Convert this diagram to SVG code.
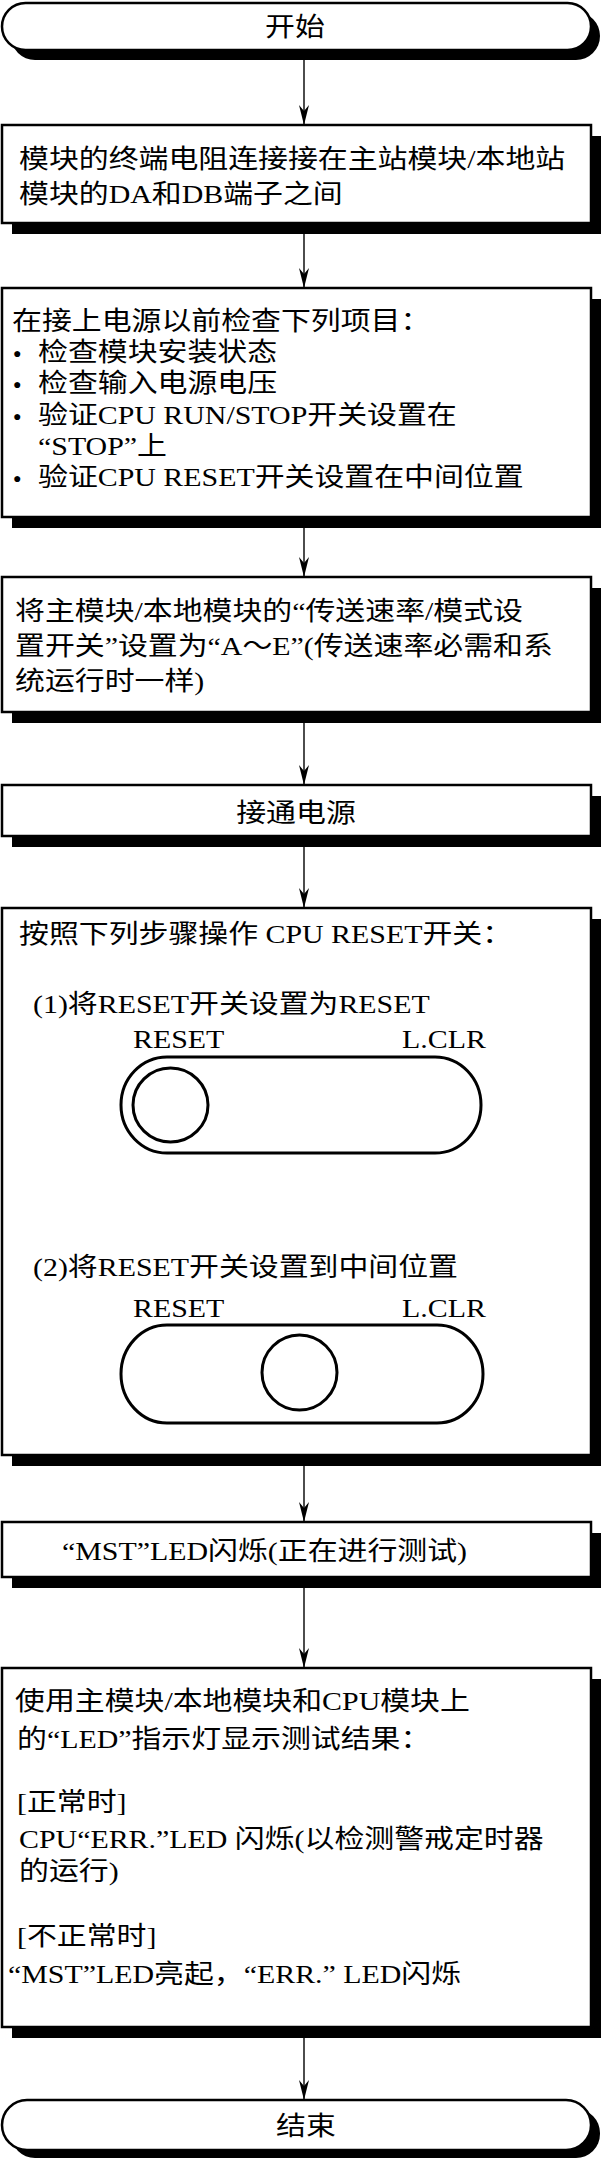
<svg xmlns="http://www.w3.org/2000/svg" width="604" height="2160" viewBox="0 0 604 2160">
<style>
.t{font-family:"Liberation Serif","Noto Sans CJK SC",serif;font-size:26px;fill:#000}
.b{font-family:"Liberation Serif","DejaVu Sans",sans-serif;font-size:14px;fill:#000}
.m{text-anchor:middle}
.box{fill:#fff;stroke:#000;stroke-width:2.5}
.sh{fill:#000}
.sw{fill:none;stroke:#000;stroke-width:3}
.c{stroke:#000;stroke-width:1.4;fill:none;marker-end:url(#ah)}
</style>
<defs>
<marker id="ah" markerUnits="userSpaceOnUse" viewBox="0 0 20 10" refX="20" refY="5" markerWidth="20" markerHeight="10" orient="auto">
<path d="M0,0 L20,5 L0,10 L6,5 Z" fill="#000"/>
</marker>
</defs>
<rect width="604" height="2160" fill="#fff"/>

<g id="connectors">
<line class="c" x1="304" y1="60" x2="304" y2="125"/>
<line class="c" x1="304" y1="234" x2="304" y2="288"/>
<line class="c" x1="304" y1="528" x2="304" y2="577"/>
<line class="c" x1="304" y1="723" x2="304" y2="785"/>
<line class="c" x1="304" y1="847" x2="304" y2="908"/>
<line class="c" x1="304" y1="1162" x2="304" y2="1235"/>
<line class="c" x1="304" y1="1466" x2="304" y2="1522"/>
<line class="c" x1="304" y1="1588" x2="304" y2="1668"/>
<line class="c" x1="304" y1="2038" x2="304" y2="2100"/>
</g>

<g id="start">
<rect class="sh" x="11" y="12" width="589" height="48" rx="24" ry="24"/>
<rect class="box" x="2" y="3" width="589" height="47" rx="23.5" ry="23.5"/>
<text class="t m" transform="translate(295,36) scale(1.15,1)">开始</text>
</g>

<g id="step1">
<rect class="sh" x="12" y="136" width="589" height="98"/>
<rect class="box" x="2" y="125" width="589" height="98"/>
<text class="t" transform="translate(19,168) scale(1.15,1)">模块的终端电阻连接接在主站模块/本地站</text>
<text class="t" transform="translate(19,203) scale(1.15,1)">模块的DA和DB端子之间</text>
</g>

<g id="step2">
<rect class="sh" x="12" y="299" width="589" height="229"/>
<rect class="box" x="2" y="288" width="589" height="229"/>
<text class="t" transform="translate(12,330) scale(1.15,1)">在接上电源以前检查下列项目：</text>
<text class="b" x="13" y="358">●</text>
<text class="t" transform="translate(38,361) scale(1.15,1)">检查模块安装状态</text>
<text class="b" x="13" y="389">●</text>
<text class="t" transform="translate(38,392) scale(1.15,1)">检查输入电源电压</text>
<text class="b" x="13" y="421">●</text>
<text class="t" transform="translate(38,424) scale(1.15,1)">验证CPU RUN/STOP开关设置在</text>
<text class="t" transform="translate(38,455) scale(1.15,1)">“STOP”上</text>
<text class="b" x="13" y="483">●</text>
<text class="t" transform="translate(38,486) scale(1.15,1)">验证CPU RESET开关设置在中间位置</text>
</g>

<g id="step3">
<rect class="sh" x="12" y="588" width="589" height="135"/>
<rect class="box" x="2" y="577" width="589" height="135"/>
<text class="t" transform="translate(15,620) scale(1.15,1)">将主模块/本地模块的“传送速率/模式设</text>
<text class="t" transform="translate(15,655) scale(1.15,1)">置开关”设置为“A～E”(传送速率必需和系</text>
<text class="t" transform="translate(15,690) scale(1.15,1)">统运行时一样)</text>
</g>

<g id="step4">
<rect class="sh" x="12" y="796" width="589" height="51"/>
<rect class="box" x="2" y="785" width="589" height="51"/>
<text class="t m" transform="translate(296,822) scale(1.15,1)">接通电源</text>
</g>

<g id="step5">
<rect class="sh" x="12" y="919" width="589" height="547"/>
<rect class="box" x="2" y="908" width="589" height="547"/>
<text class="t" transform="translate(19,943) scale(1.15,1)">按照下列步骤操作 CPU RESET开关：</text>
<text class="t" transform="translate(33,1013) scale(1.15,1)">(1)将RESET开关设置为RESET</text>
<text class="t" transform="translate(133,1048) scale(1.15,1)">RESET</text>
<text class="t" transform="translate(402,1048) scale(1.15,1)">L.CLR</text>
<rect class="sw" x="121" y="1057" width="360" height="96" rx="46" ry="48"/>
<ellipse class="sw" cx="170.5" cy="1105" rx="37.5" ry="37"/>
<text class="t" transform="translate(33,1276) scale(1.15,1)">(2)将RESET开关设置到中间位置</text>
<text class="t" transform="translate(133,1317) scale(1.15,1)">RESET</text>
<text class="t" transform="translate(402,1317) scale(1.15,1)">L.CLR</text>
<rect class="sw" x="121" y="1325" width="362" height="98" rx="46" ry="49"/>
<ellipse class="sw" cx="299.5" cy="1372.5" rx="37.5" ry="37.5"/>
</g>

<g id="step6">
<rect class="sh" x="12" y="1533" width="589" height="55"/>
<rect class="box" x="2" y="1522" width="589" height="55"/>
<text class="t" transform="translate(62,1560) scale(1.15,1)">“MST”LED闪烁(正在进行测试)</text>
</g>

<g id="step7">
<rect class="sh" x="12" y="1679" width="589" height="359"/>
<rect class="box" x="2" y="1668" width="589" height="359"/>
<text class="t" transform="translate(15,1710) scale(1.15,1)">使用主模块/本地模块和CPU模块上</text>
<text class="t" transform="translate(17,1748) scale(1.15,1)">的“LED”指示灯显示测试结果：</text>
<text class="t" transform="translate(17,1811) scale(1.15,1)">[正常时]</text>
<text class="t" transform="translate(19,1848) scale(1.15,1)">CPU“ERR.”LED 闪烁(以检测警戒定时器</text>
<text class="t" transform="translate(19,1880) scale(1.15,1)">的运行)</text>
<text class="t" transform="translate(17,1945) scale(1.15,1)">[不正常时]</text>
<text class="t" transform="translate(8,1983) scale(1.15,1)">“MST”LED亮起，“ERR.” LED闪烁</text>
</g>

<g id="end">
<rect class="sh" x="11" y="2109" width="589" height="49" rx="24" ry="24"/>
<rect class="box" x="2" y="2100" width="589" height="50" rx="25" ry="25"/>
<text class="t m" transform="translate(306,2135) scale(1.15,1)">结束</text>
</g>
</svg>
